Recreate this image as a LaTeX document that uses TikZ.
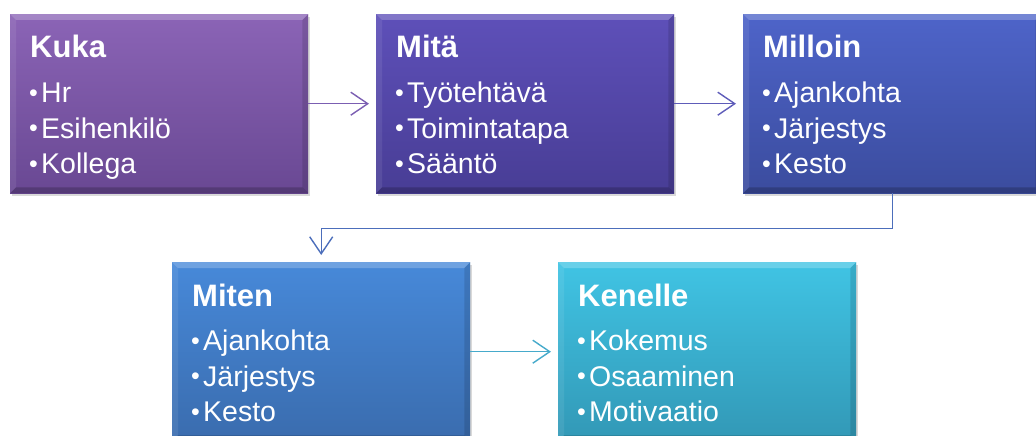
\documentclass[tikz,border=0pt]{standalone}
\usepackage{fontspec}
\setmainfont{Liberation Sans}
\usetikzlibrary{arrows.meta,shadows,calc}
\definecolor{kukaT}{HTML}{8B64B6}
\definecolor{kukaB}{HTML}{694893}
\definecolor{mitaT}{HTML}{5E50B9}
\definecolor{mitaB}{HTML}{483D95}
\definecolor{millT}{HTML}{4E64C9}
\definecolor{millB}{HTML}{3B4C9E}
\definecolor{mitenT}{HTML}{4789D9}
\definecolor{mitenB}{HTML}{3A6CAE}
\definecolor{kenT}{HTML}{40C4E4}
\definecolor{kenB}{HTML}{3298B6}
\definecolor{arA}{HTML}{7B5EB2}
\definecolor{arB}{HTML}{5E5CB9}
\definecolor{arC}{HTML}{4C6EBB}
\definecolor{arD}{HTML}{46AACB}
\tikzset{
  box/.style={rectangle, anchor=north west, minimum width=298pt, minimum height=179pt,
    inner sep=0pt, drop shadow={shadow xshift=2pt, shadow yshift=-3pt, opacity=0.3}},
  ttl/.style={anchor=base west, inner sep=0pt, text=white, font=\fontsize{31}{31}\selectfont\bfseries},
  itm/.style={anchor=base west, inner sep=0pt, text=white, font=\fontsize{28.5}{28.5}\selectfont},
  conn/.style={line width=1.4pt, -{Straight Barb[length=17pt,width=23pt,line width=1.4pt]}, shorten >=7pt}
}
\newcommand\bul{\makebox[11pt][l]{\hspace{-1pt}\raisebox{1.5pt}{\fontsize{25}{25}\selectfont •}}}
\newcommand\mkbevel[1]{%
  \fill[white,opacity=.22] (#1.north west) -- (#1.north east) -- ($(#1.north east)+(-6,6)$) -- ($(#1.north west)+(6,6)$) -- cycle;
  \fill[white,opacity=.08] (#1.north west) -- (#1.south west) -- ($(#1.south west)+(6,-6)$) -- ($(#1.north west)+(6,6)$) -- cycle;
  \fill[black,opacity=.12] (#1.north east) -- (#1.south east) -- ($(#1.south east)+(-6,-6)$) -- ($(#1.north east)+(-6,6)$) -- cycle;
  \fill[black,opacity=.2] (#1.south west) -- (#1.south east) -- ($(#1.south east)+(-6,-6)$) -- ($(#1.south west)+(6,-6)$) -- cycle;
}
\newcommand\mkbox[9]{%
  \node[box, top color=#4, bottom color=#5] (#1) at (#2,#3) {};
  \mkbevel{#1}
  \node[ttl] (#1-t) at ($(#1.north west)+(20,44)$) {#6};
  \node[itm] (#1-a) at ($(#1.north west)+(20,88.5)$) {\bul#7};
  \node[itm] (#1-b) at ($(#1.north west)+(20,124)$) {\bul#8};
  \node[itm] (#1-c) at ($(#1.north west)+(20,159.5)$) {\bul#9};
}
\begin{document}
\begin{tikzpicture}[x=1pt,y=-1pt]
\useasboundingbox (0,0) rectangle (1036,436);
\clip (0,0) rectangle (1036,436);
\mkbox{kuka}{10}{14}{kukaT}{kukaB}{Kuka}{Hr}{Esihenkilö}{Kollega}
\mkbox{mita}{376}{14}{mitaT}{mitaB}{Mitä}{Työtehtävä}{Toimintatapa}{Sääntö}
\mkbox{milloin}{743}{14}{millT}{millB}{Milloin}{Ajankohta}{Järjestys}{Kesto}
\mkbox{miten}{172}{262}{mitenT}{mitenB}{Miten}{Ajankohta}{Järjestys}{Kesto}
\mkbox{kenelle}{558}{262}{kenT}{kenB}{Kenelle}{Kokemus}{Osaaminen}{Motivaatio}
\draw[conn, arA] (kuka.east) -- (mita.west);
\draw[conn, arB] (mita.east) -- (milloin.west);
\draw[conn, arC] (milloin.south) -- ++(0,35) -| (miten.north);
\draw[conn, arD] (miten.east) -- (kenelle.west);
\end{tikzpicture}
\end{document}
